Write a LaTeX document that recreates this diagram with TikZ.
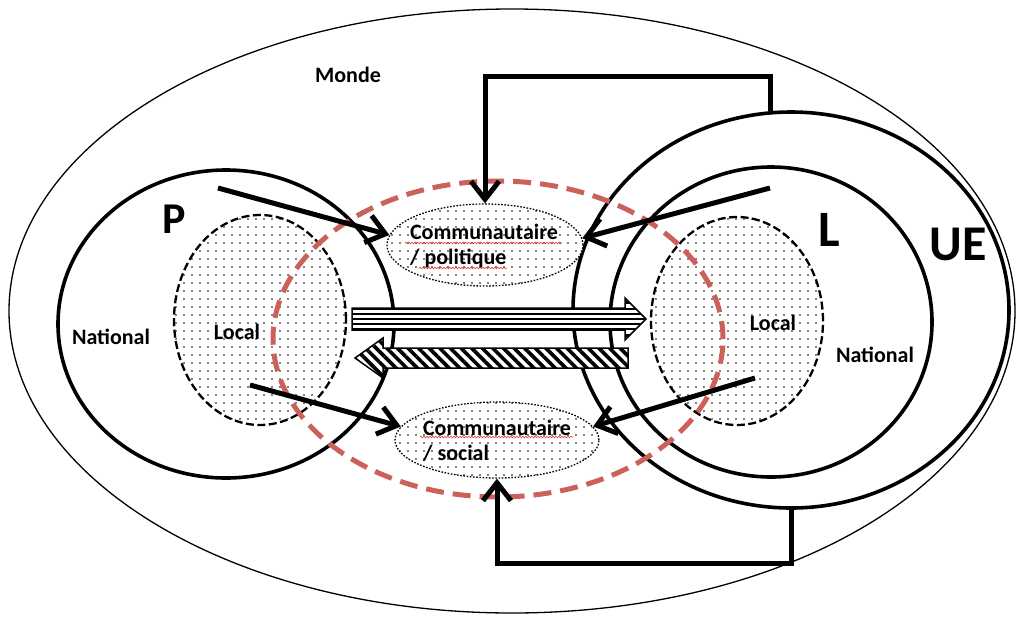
\documentclass[tikz,border=0pt]{standalone}
\usepackage{fontspec}
\setmainfont{Carlito}
\usetikzlibrary{arrows.meta,patterns.meta,shapes.geometric,decorations.pathmorphing}
\definecolor{redd}{RGB}{204,96,90}
\definecolor{squig}{RGB}{225,60,60}
\newcommand{\rarrowshape}{(352,308) -- (625,308) -- (625,298) -- (646,319) -- (625,340) -- (625,330) -- (352,330) -- cycle}
\begin{document}
\begin{tikzpicture}[x=1pt,y=-1pt,
  lab/.style={font=\bfseries\fontsize{22}{24.5}\selectfont, inner sep=0pt},
  biglab/.style={font=\bfseries\fontsize{#1}{#1}\selectfont, inner sep=0pt},
  circ/.style={draw, ellipse, line width=3.6pt, inner sep=0pt},
  locl/.style={draw, ellipse, line width=2.3pt, dash pattern=on 8pt off 3.5pt,
    preaction={fill=white}, pattern={Dots[radius=0.8pt,distance=8pt]}, inner sep=0pt},
  comm/.style={draw, ellipse, line width=1.3pt, dash pattern=on 1.6pt off 1.6pt,
    preaction={fill=white}, pattern={Dots[radius=0.8pt,distance=8pt]}, inner sep=0pt},
  arr/.style={line width=5pt, -{Straight Barb[length=18pt,width=28pt]}},
  squiggle/.style={squig, line width=0.6pt, decorate,
    decoration={snake, amplitude=0.8pt, segment length=3pt}},
  stripearrow/.style={draw, line width=1.5pt, preaction={fill=white}},
]
\useasboundingbox (0,0) rectangle (1020,619);
% outer world
\node[draw, ellipse, line width=1.3pt, minimum width=1006pt, minimum height=604pt] (monde) at (512,311) {};
% circles
\node[circ, minimum width=436pt, minimum height=396pt] (ue) at (791,310) {};
\node[circ, minimum width=322pt, minimum height=310pt] (nl) at (771,322) {};
\node[circ, minimum width=336pt, minimum height=308pt] (np) at (226,324) {};
% local ellipses
\node[locl, minimum width=172pt, minimum height=210pt] (lp) at (260,320) {};
\node[locl, minimum width=172pt, minimum height=208pt] (ll) at (737,321) {};
% red dashed ellipse
\node[draw=redd, ellipse, line width=5pt, dash pattern=on 18pt off 9pt,
  minimum width=450pt, minimum height=316pt] (zone) at (498,339) {};
% communautaire ellipses
\node[comm, minimum width=196pt, minimum height=82pt] (pol) at (485,245) {};
\node[comm, minimum width=204pt, minimum height=76pt] (soc) at (497,440) {};
\node[lab, align=left] (polt) at (484,246) {Communautaire\\/ politique};
\node[lab, align=left] (soct) at (497,441) {Communautaire\\/ social};
\draw[squiggle] (405,243) -- (562,243);
\draw[squiggle] (419,268) -- (507,268);
\draw[squiggle] (420,437) -- (573,437);
% labels
\node[lab] (mondet) at (348,75) {Monde};
\node[lab] (natp) at (111,337) {National};
\node[lab] (locp) at (237,332) {Local};
\node[lab] (locl) at (773,323) {Local};
\node[lab] (natl) at (875,355) {National};
\node[biglab=44] (pt) at (174,219) {P};
\node[biglab=51] (lt) at (829,230) {L};
\node[biglab=50] (uet) at (958,244) {UE};
% striped exchange arrows
\fill[white] \rarrowshape;
\begin{scope}
  \clip \rarrowshape;
  \foreach \yy in {302.5,309.2,314.1,319,323.9,328.8,335.5}
    \draw[line width=2.4pt] (352,\yy) -- (646,\yy);
\end{scope}
\draw[line width=1.5pt] \rarrowshape;
\draw[stripearrow, pattern={Lines[angle=-45,distance=7.5pt,line width=3.6pt]}]
  (628,348) -- (383,348) -- (383,338) -- (355,358) -- (383,378) -- (383,368) -- (628,368) -- cycle;
% diagonal arrows
\coordinate (s1) at (218,188);
\coordinate (s2) at (770,188);
\coordinate (s3) at (250,385);
\coordinate (s4) at (755,378);
\draw[arr] (s1) -- (pol.174);
\draw[arr] (s2) -- (pol.4);
\draw[arr] (s3) -- (soc.172);
\draw[arr] (s4) -- (soc.8);
% feedback arrows
\draw[arr] (ue.96) -- ++(0,-35) -| (pol.north);
\draw[arr] (ue.south) -- ++(0,54) -| (soc.south);
\end{tikzpicture}
\end{document}
